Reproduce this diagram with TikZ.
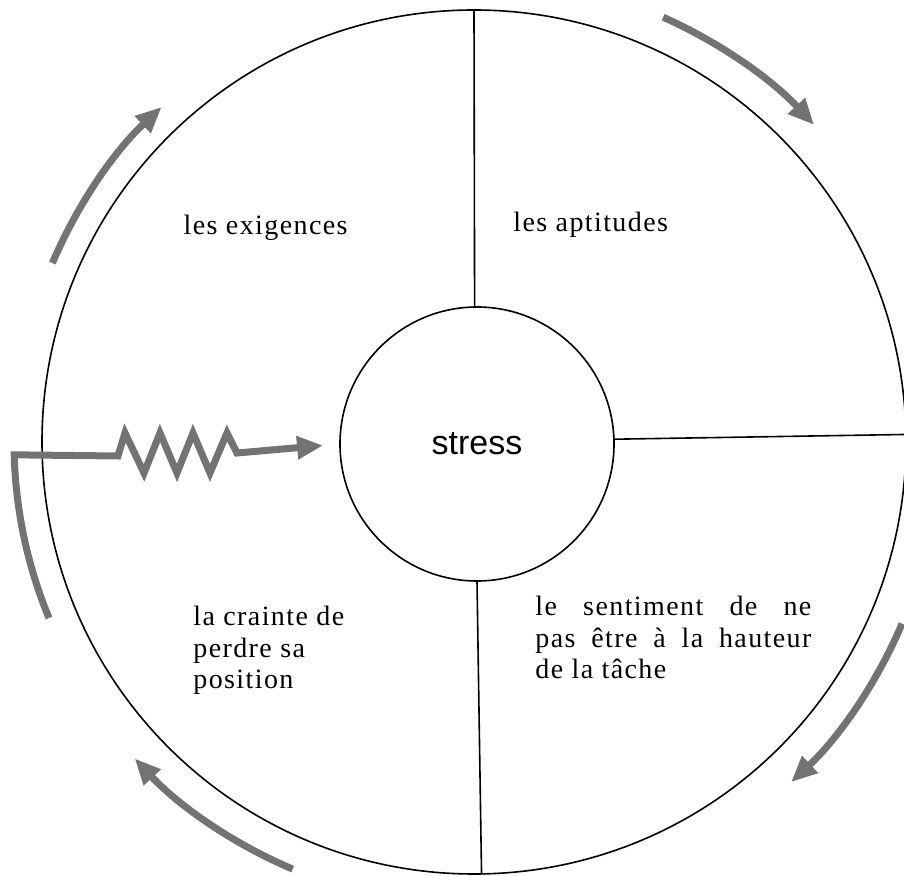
\documentclass[tikz,border=0pt]{standalone}
\usepackage{fontspec}
\setmainfont{Liberation Serif}[LetterSpace=5]
\setsansfont{Liberation Sans}
\usetikzlibrary{arrows.meta}

\begin{document}
\begin{tikzpicture}[
x=0.5pt, y=0.5pt,
ring/.style={draw, circle, line width=0.8pt, inner sep=0pt, outer sep=0pt},
txt/.style={inner sep=0pt, font=\fontsize{14}{15.6}\selectfont},
sector/.style={line width=0.8pt},
flow/.style={draw=black!55, line width=3.5pt, -{Triangle[length=13pt, width=11pt]}}
]
\useasboundingbox (-474,-434) rectangle (430,442);

\node[ring, minimum size=432pt] (wheel) at (0,0) {};
\node[ring, minimum size=137pt, font=\sffamily\fontsize{17}{20}\selectfont] (core) at (3,-2) {stress};

\node[txt, anchor=base east] (demands) at (-126,207) {les exigences};
\node[txt, anchor=base west] (skills) at (39,210) {les aptitudes};
\node[txt, anchor=north west, align=left] (fear) at (-281,-164) {la crainte de\\perdre sa\\position};
\node[txt, anchor=north west, text width=138pt, align=justify] (doubt) at (61,-154) {le sentiment de ne\linebreak pas être à la hauteur\linebreak de la tâche};

% the four quarters
\draw[sector] (core.91.7) -- (wheel.90.8);
\draw[sector] (core.2) -- (wheel.1.2);
\draw[sector] (core.270.8) -- (wheel.271.6);

% turning arrows round the wheel
\draw[flow] (157:458) arc[start angle=157, end angle=133, radius=458];
\draw[flow] (66:465) arc[start angle=66, end angle=43, radius=465];
\draw[flow] (-23:465) arc[start angle=-23, end angle=-47, radius=465];
\draw[flow] (247:464) arc[start angle=247, end angle=223, radius=464];

% hooked zigzag arrow into the centre
\coordinate (hook) at (202.5:460);
\draw[flow, line join=miter, shorten >=8.5pt] (hook) arc[start angle=202.5, end angle=181.6, radius=460]
  -- (-356,-14) -- (-349,9) -- (-330,-31) -- (-314,9) -- (-297,-31) -- (-281,9)
  -- (-264,-31) -- (-247,9) -- (-237,-11) -- (core.west);
\end{tikzpicture}
\end{document}
